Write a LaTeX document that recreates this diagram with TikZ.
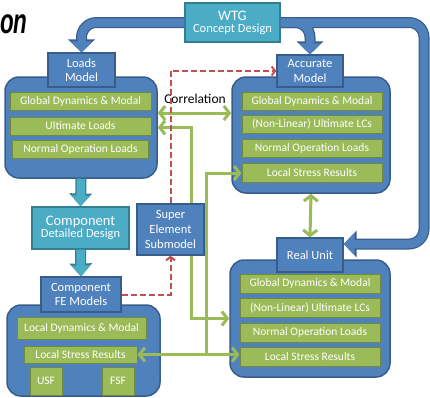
\documentclass[tikz,border=0pt]{standalone}
\usepackage{graphicx}
\usepackage{fontspec}
\setmainfont{Carlito}
\newfontfamily\titlefont{Liberation Sans}
\usetikzlibrary{arrows.meta,calc}
\definecolor{boxblue}{HTML}{4F81BD}
\definecolor{lineblue}{HTML}{385D8A}
\definecolor{boxteal}{HTML}{4BACC6}
\definecolor{lineteal}{HTML}{357D91}
\definecolor{rowgreen}{HTML}{9BBB59}
\definecolor{linegreen}{HTML}{71893F}
\definecolor{linkgreen}{HTML}{9BBB59}
\definecolor{linkred}{HTML}{C0504D}
\tikzset{
	panel/.style={draw=lineblue,fill=boxblue,line width=1.5pt,rounded corners=14pt,inner sep=0pt},
	hdr/.style={draw=lineblue,fill=boxblue,line width=1.2pt,text=white,align=center,inner sep=0pt,font=\fontsize{12.5}{14.5}\selectfont},
	tealbox/.style={draw=lineteal,fill=boxteal,line width=1.2pt,text=white,align=center,inner sep=0pt},
	row/.style={draw=linegreen,fill=rowgreen,line width=1pt,text=white,inner sep=0pt,minimum width=140pt,minimum height=18pt,font=\fontsize{11.5}{12}\selectfont},
	fatout/.style={draw=lineblue,line width=11pt,rounded corners=15pt,-{Triangle[width=26pt,length=13pt]}},
	fatin/.style={draw=boxblue,line width=8.5pt,rounded corners=15pt,-{Triangle[width=22pt,length=11pt]}},
	tealout/.style={draw=lineteal,line width=11pt,-{Triangle[width=22pt,length=13pt]}},
	tealin/.style={draw=boxteal,line width=8.5pt,-{Triangle[width=18pt,length=11pt]}},
	link/.style={draw=linkgreen,line width=3pt,>={Straight Barb[length=5.5pt,width=14pt]}},
	redlink/.style={draw=linkred,line width=2pt,dash pattern=on 6pt off 3pt,>={Straight Barb[length=3.5pt,width=9pt]}}
}
\begin{document}
\begin{tikzpicture}[x=1pt,y=-1pt]
		\useasboundingbox (0,0) rectangle (430,397);
		\node[anchor=base west,inner sep=0pt](title) at (0,33){\titlefont\bfseries\itshape\fontsize{35}{35}\selectfont\scalebox{0.64}[1]{on}};
		% concept design
		\node[tealbox,minimum width=95pt,minimum height=39pt](wtg) at (232.5,22.5){{\fontsize{14.5}{17}\selectfont WTG}\\{\fontsize{12.5}{15}\selectfont Concept Design}};
		% loads model
		\node[panel,minimum width=152pt,minimum height=101pt](loadsbox) at (81,127.5){};
		\node[hdr,minimum width=67pt,minimum height=34pt](loads) at (81.5,70){Loads\\Model};
		\node[row,minimum width=141pt](lglobal) at (80.5,101.5){Global Dynamics \& Modal};
		\node[row,minimum width=141pt,below of=lglobal,node distance=24.5pt](lult){Ultimate Loads};
		\node[row,minimum width=136pt,below of=lult,node distance=23pt](lnorm){Normal Operation Loads};
		% accurate model
		\node[panel,minimum width=158pt,minimum height=116pt](accbox) at (311,135){};
		\node[hdr,minimum width=66pt,minimum height=32pt](acc) at (310,71){Accurate\\Model};
		\node[row](aglobal) at (312,101.5){Global Dynamics \& Modal};
		\node[row,below of=aglobal,node distance=23pt](ault){(Non-Linear) Ultimate LCs};
		\node[row,below of=ault,node distance=24pt](anorm){Normal Operation Loads};
		\node[row,minimum height=19pt,below of=anorm,node distance=24.5pt](astress){Local Stress Results};
		% real unit
		\node[panel,minimum width=160pt,minimum height=117pt](realbox) at (310,318.5){};
		\node[hdr,minimum width=66pt,minimum height=34pt](real) at (310,255){Real Unit};
		\node[row,minimum height=19pt](rglobal) at (310,283.5){Global Dynamics \& Modal};
		\node[row,minimum height=19pt,below of=rglobal,node distance=24.5pt](rult){(Non-Linear) Ultimate LCs};
		\node[row,minimum height=19pt,below of=rult,node distance=24.5pt](rnorm){Normal Operation Loads};
		\node[row,minimum height=19pt,below of=rnorm,node distance=24pt](rstress){Local Stress Results};
		% component
		\node[tealbox,minimum width=97pt,minimum height=42pt](design) at (80.5,228){{\fontsize{14.5}{16}\selectfont Component}\\{\fontsize{12.5}{15}\selectfont Detailed Design}};
		\node[panel,minimum width=153pt,minimum height=91pt](febox) at (83.5,350.5){};
		\node[hdr,minimum width=80pt,minimum height=35pt](fe) at (81,294.5){Component\\FE Models};
		\node[row,minimum width=129pt,minimum height=22pt](flocal) at (81.5,328){Local Dynamics \& Modal};
		\node[row,minimum width=113pt,minimum height=17pt](fstress) at (80.5,354.5){Local Stress Results};
		\node[row,minimum width=32pt,minimum height=28pt](usf) at (46,381){USF};
		\node[row,minimum width=32pt,minimum height=28pt](fsf) at (118,381){FSF};
		\coordinate (rturn) at (424,244);
		% big arrows
		\draw[fatout] (wtg.west) -| (loads.north);
		\draw[fatout] (wtg.east) -| (rturn) -- ([yshift=11pt]real.east);
		\draw[fatout] (wtg.east) -| (acc.north);
		\draw[fatin] (wtg.west) -| (loads.north);
		\draw[fatin] (wtg.east) -| (rturn) -- ([yshift=11pt]real.east);
		\draw[fatin] (wtg.east) -| (acc.north);
		\draw[tealout] (loadsbox.south) -- (design.north);
		\draw[tealin] (loadsbox.south) -- (design.north);
		\draw[tealout] (design.south) -- (fe.north);
		\draw[tealin] (design.south) -- (fe.north);
		% correlation
		\node[font=\fontsize{13.5}{15}\selectfont](corr) at (195,98.5){Correlation};
		\draw[link,<->] ([yshift=14.5pt]loadsbox.east) coordinate (c) -- (accbox.west |- c);
		\draw[link,<->] (loadsbox.east) -| ($(realbox.west)+(-38,0)$) -- (realbox.west);
		\draw[link,<->] (fstress.east) -- (rstress.west |- fstress.east);
		\draw[link,->] ($(astress.west |- fstress.east)+(-35,0)$) |- (astress.west);
		\draw[link,<->] (accbox.south) -- (real.north);
		% submodel
		\node[hdr,minimum width=67pt,minimum height=51pt,font=\fontsize{12.5}{15}\selectfont](super) at (170.5,229.5){Super\\Element\\Submodel};
		\draw[redlink,->] (fe.east) -| (super.south);
		\draw[redlink,->] (super.north) |- (acc.west);
\end{tikzpicture}
\end{document}
